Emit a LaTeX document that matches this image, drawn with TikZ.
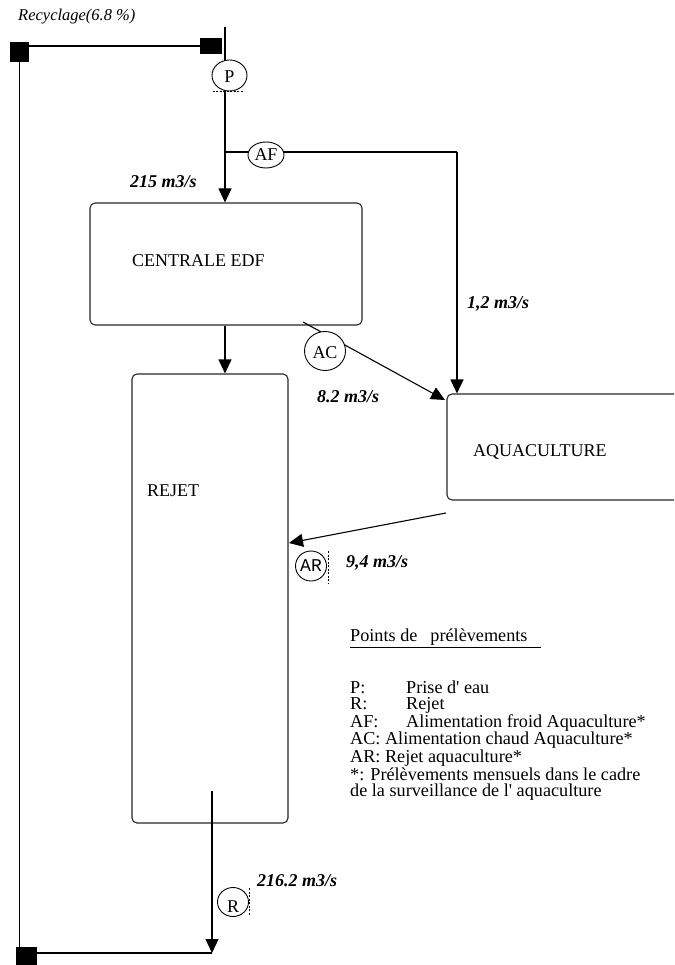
\documentclass[tikz,border=0pt]{standalone}
\usepackage{fontspec}
\setmainfont{Liberation Serif}
\setmonofont{Liberation Mono}
\usetikzlibrary{arrows.meta, positioning, calc, shapes.geometric}
\tikzset{
  box/.style={rectangle, rounded corners=5pt, draw=black!85, line width=1.1pt, inner sep=0pt},
  lbl/.style={font=\fontsize{18}{20}\selectfont, inner sep=0pt, anchor=base west},
  rate/.style={font=\fontsize{18}{20}\selectfont\bfseries\itshape, inner sep=0pt, anchor=base west},
  probe/.style={ellipse, draw, line width=0.9pt, fill=white, inner sep=0pt,
    font=\fontsize{18}{20}\selectfont},
  tag/.style={draw, line width=0.8pt, dash pattern=on 2pt off 1.5pt},
  valve/.style={rectangle, fill=black, inner sep=0pt},
  pipe/.style={line width=1.1pt},
  flow/.style={-{Triangle[length=14pt, width=13pt]}, line width=1.1pt},
  legend/.style={font=\fontsize{18.2}{16.5}\selectfont, align=left, inner sep=0pt, anchor=base west},
}

\begin{document}
\begin{tikzpicture}[x=1pt, y=-1pt]
\useasboundingbox (0,0) rectangle (674,965);
\clip (0,0) rectangle (674,965);

% boxes
\node[box, minimum width=272pt, minimum height=122pt] (edf) at (226,264) {};
\node[box, minimum width=156pt, minimum height=449pt] (rejet) at (210,598.5) {};
\node[box, minimum width=263pt, minimum height=106pt] (aqua) at (578.5,447) {};
\node[lbl] (edflbl) at (132,267) {CENTRALE EDF};
\node[lbl] (rejetlbl) at (147,496) {REJET};
\node[lbl] (aqualbl) at (473,456) {AQUACULTURE};

% recycling loop
\node[valve, minimum width=19pt, minimum height=20pt] (sqa) at (19.5,52) {};
\node[valve, minimum width=22pt, minimum height=16pt] (sqb) at (211,46) {};
\node[valve, minimum width=21pt, minimum height=20pt] (sqc) at (26.5,957) {};
\draw[pipe] (sqa.east |- sqb.west) -- (sqb.west);
\draw[pipe] (sqa.south) -- (sqa.south |- sqc.north);
\node[font=\fontsize{16.5}{18}\selectfont\itshape, inner sep=0pt, anchor=base west] (recy) at (18,21) {Recyclage(6.8 \%)};

% water path
\coordinate (intake) at (225,27);
\coordinate (afsplit) at (225,152);
\coordinate (afcorner) at (457,152);
\coordinate (acstart) at (303,322);
\coordinate (acend) at (445,400);
\coordinate (arstart) at (446,513);
\coordinate (arend) at (289,543);
\coordinate (rstart) at (212,791);
\coordinate (rend) at (212,953);

\draw[flow] (intake) -- (intake |- edf.north);
\draw[flow] (edf.south -| intake) -- (rejet.north -| intake);
\draw[pipe] (afsplit) -- (afcorner);
\draw[flow] (afcorner) -- (afcorner |- aqua.north);
\foreach \a/\b in {acstart/acend, arstart/arend, rstart/rend}
  \draw[flow] (\a) -- (\b);
\draw[pipe] (rend) -- (sqc.east |- rend);

% sampling points
\node[probe, minimum width=35pt, minimum height=31pt, text height=15pt, text depth=0pt] (p) at (229.5,75.5) {P};
\node[probe, minimum width=36pt, minimum height=26pt] (af) at (266,155) {AF};
\node[probe, minimum width=41pt, minimum height=39pt, text height=15pt, text depth=0pt] (ac) at (325,351) {AC};
\node[probe, minimum width=31pt, minimum height=30pt, font=\fontsize{18}{20}\selectfont\ttfamily] (ar) at (311,566) {AR};
\node[probe, minimum width=31pt, minimum height=29pt, text height=20pt, text depth=0pt] (r) at (233,902) {R};
\draw[tag] ([xshift=-17pt]p.south) -- ([xshift=13pt]p.south);
\draw[tag] ($(ar.east)+(1.5,-15)$) -- ($(ar.east)+(1.5,17)$);
\draw[tag] ($(r.east)+(0.5,-14)$) -- ($(r.east)+(0.5,14)$);

% flow rates
\node[rate] (q215) at (130,188) {215 m3/s};
\node[rate] (q12) at (467,308) {1,2 m3/s};
\node[rate] (q82) at (317,402) {8.2 m3/s};
\node[rate] (q94) at (346,567) {9,4 m3/s};
\node[rate] (q2162) at (257,886) {216.2 m3/s};

% key (base = last line)
\node[legend] (key) at (350,796.5) {\underline{Points de\hspace{13pt}prélèvements\hspace{14pt}}\\[32pt]
  \makebox[56pt][l]{P:}Prise d\textquotesingle{} eau\\
  \makebox[56pt][l]{R:}Rejet\\
  \makebox[56pt][l]{AF:}Alimentation froid Aquaculture*\\
  AC: Alimentation chaud Aquaculture*\\
  AR: Rejet aquaculture*\\
  *: Prélèvements mensuels dans le cadre\\
  de la surveillance de l\textquotesingle{} aquaculture};
\end{tikzpicture}
\end{document}
